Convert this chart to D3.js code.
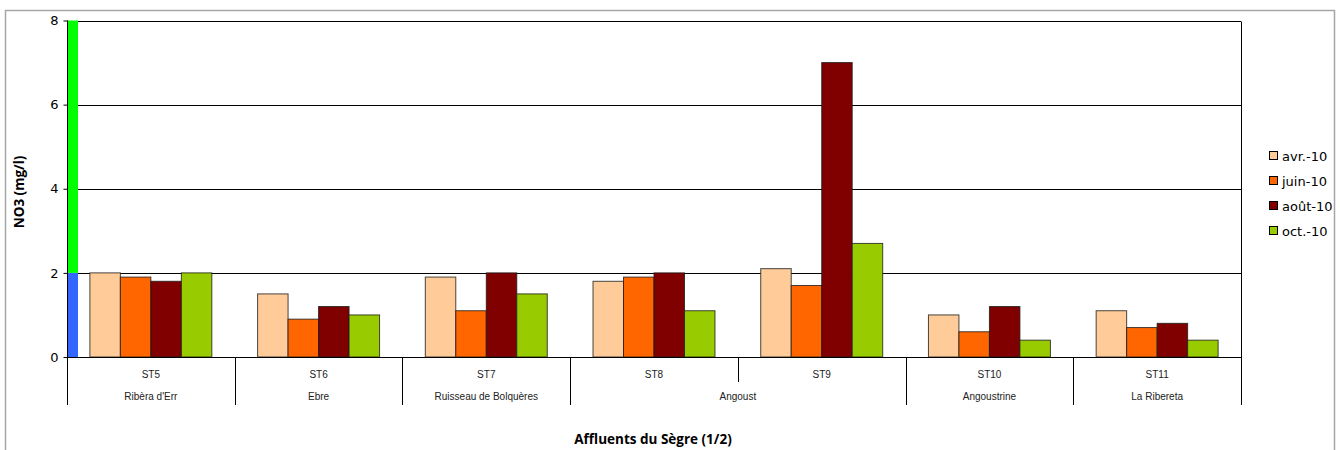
<!DOCTYPE html>
<html>
<head>
<meta charset="utf-8">
<script src="https://cdn.jsdelivr.net/npm/d3@7"></script>
<style>
  html, body { margin: 0; padding: 0; background: #fff; }
  svg { display: block; }
</style>
</head>
<body>
<svg id="chart" width="1340" height="450"></svg>
<script>
// Stations, their river, and NO3 readings per sampling campaign
const stations = ["ST5", "ST6", "ST7", "ST8", "ST9", "ST10", "ST11"];
const rivers = ["Ribèra d'Err", "Ebre", "Ruisseau de Bolquères", "Angoust", "Angoust", "Angoustrine", "La Ribereta"];
const campaigns = ["avr.-10", "juin-10", "août-10", "oct.-10"];
const avr10 = [2.0, 1.5, 1.9, 1.8, 2.1, 1.0, 1.1];
const juin10 = [1.9, 0.9, 1.1, 1.9, 1.7, 0.6, 0.7];
const aout10 = [1.8, 1.2, 2.0, 2.0, 7.0, 1.2, 0.8];
const oct10 = [2.0, 1.0, 1.5, 1.1, 2.7, 0.4, 0.4];
const yTicks = [0, 2, 4, 6, 8];
// Quality class band on the left edge: [from, to]
const classBands = [[0, 2], [2, 8]];

const seriesValues = [avr10, juin10, aout10, oct10];
const colors = ["#FFCC99", "#FF6600", "#800000", "#99CC00"];
const bandColors = ["#3366FF", "#00FF00"];

const svg = d3.select("#chart");
const m = { left: 67, right: 1241, top: 20.5, bottom: 357 };

// chart frame
svg.append("rect")
  .attr("x", 5.5).attr("y", 10.5)
  .attr("width", 1329).attr("height", 460)
  .attr("fill", "#fff").attr("stroke", "#a6a6a6").attr("stroke-width", 1.5);

const x = d3.scaleBand().domain(d3.range(stations.length)).range([m.left, m.right]).padding(0);
const xs = d3.scaleBand().domain(d3.range(campaigns.length)).range([0, x.bandwidth()])
  .paddingInner(0).paddingOuter(0.75);
const y = d3.scaleLinear().domain([0, 8]).range([m.bottom, m.top]);

// horizontal gridlines
svg.append("g").selectAll("line").data(yTicks.filter(d => d > 0)).join("line")
  .attr("x1", m.left).attr("x2", m.right)
  .attr("y1", d => Math.round(y(d)) + 0.5).attr("y2", d => Math.round(y(d)) + 0.5)
  .attr("stroke", "#000").attr("stroke-width", 1);

// right edge of plot
svg.append("line")
  .attr("x1", m.right + 0.5).attr("x2", m.right + 0.5)
  .attr("y1", Math.round(y(8)) + 0.5).attr("y2", m.bottom)
  .attr("stroke", "#000");

// class bands
svg.append("g").selectAll("rect").data(classBands).join("rect")
  .attr("x", m.left).attr("width", 11)
  .attr("y", d => y(d[1])).attr("height", d => y(d[0]) - y(d[1]))
  .attr("fill", (d, i) => bandColors[i]);

// bars
const groups = svg.append("g").selectAll("g").data(stations).join("g")
  .attr("transform", (d, i) => `translate(${x(i)},0)`);
groups.selectAll("rect")
  .data((d, i) => seriesValues.map((s, k) => ({ k, v: s[i] })))
  .join("rect")
  .attr("x", d => xs(d.k))
  .attr("width", xs.bandwidth())
  .attr("y", d => y(d.v))
  .attr("height", d => y(0) - y(d.v))
  .attr("fill", d => colors[d.k])
  .attr("stroke", "#1a1a1a").attr("stroke-opacity", 0.8).attr("stroke-width", 1);

// y axis
const yAxis = d3.axisLeft(y).tickValues(yTicks).tickSize(4).tickPadding(5).tickFormat(d3.format("d"));
const ya = svg.append("g").attr("transform", `translate(${m.left + 0.5},0)`).call(yAxis);
ya.select(".domain").remove();
ya.selectAll(".tick line").attr("stroke", "#000");
ya.selectAll("text").attr("font-family", "DejaVu Sans, Verdana, sans-serif")
  .attr("font-size", 13).attr("fill", "#000");
svg.append("line")
  .attr("x1", m.left + 0.5).attr("x2", m.left + 0.5)
  .attr("y1", m.top).attr("y2", 405)
  .attr("stroke", "#000");

// x axis baseline
svg.append("line")
  .attr("x1", m.left).attr("x2", m.right + 1)
  .attr("y1", m.bottom + 0.5).attr("y2", m.bottom + 0.5)
  .attr("stroke", "#000");

// category dividers: full height between rivers, short between stations of the same river
const dividers = d3.range(1, stations.length + 1).map(i => ({
  x: i === stations.length ? m.right : x(i),
  full: i === stations.length || rivers[i] !== rivers[i - 1]
}));
svg.append("g").selectAll("line").data(dividers).join("line")
  .attr("x1", d => Math.round(d.x) + 0.5).attr("x2", d => Math.round(d.x) + 0.5)
  .attr("y1", m.bottom).attr("y2", d => d.full ? 405 : 382)
  .attr("stroke", "#000");

// station labels
svg.append("g").selectAll("text").data(stations).join("text")
  .attr("x", (d, i) => x(i) + x.bandwidth() / 2)
  .attr("y", 378)
  .attr("text-anchor", "middle")
  .attr("font-family", "Liberation Sans, Arial, sans-serif")
  .attr("font-size", 10).attr("fill", "#222")
  .text(d => d);

// river labels, spanning consecutive stations on the same river
const riverSpans = [];
rivers.forEach((r, i) => {
  const last = riverSpans[riverSpans.length - 1];
  if (last && last.name === r) last.end = i; else riverSpans.push({ name: r, start: i, end: i });
});
svg.append("g").selectAll("text").data(riverSpans).join("text")
  .attr("x", d => (x(d.start) + x(d.end) + x.bandwidth()) / 2)
  .attr("y", 399.5)
  .attr("text-anchor", "middle")
  .attr("font-family", "Liberation Sans, Arial, sans-serif")
  .attr("font-size", 10).attr("fill", "#222")
  .text(d => d.name);

// axis titles
svg.append("text")
  .attr("x", 653).attr("y", 444)
  .attr("text-anchor", "middle")
  .attr("font-family", "Open Sans, Liberation Sans, sans-serif")
  .attr("font-weight", "bold").attr("font-size", 13.5).attr("fill", "#000")
  .text("Affluents du Sègre (1/2)");
svg.append("text")
  .attr("transform", "translate(24,192) rotate(-90)")
  .attr("text-anchor", "middle")
  .attr("font-family", "Open Sans, Liberation Sans, sans-serif")
  .attr("font-weight", "bold").attr("font-size", 13.5).attr("fill", "#000")
  .text("NO3 (mg/l)");

// legend
const legend = svg.append("g").attr("transform", "translate(1269,156)");
const li = legend.selectAll("g").data(campaigns).join("g")
  .attr("transform", (d, i) => `translate(0,${i * 25})`);
li.append("rect")
  .attr("x", 0.5).attr("y", -4.5).attr("width", 8).attr("height", 8)
  .attr("fill", (d, i) => colors[i]).attr("stroke", "#000").attr("stroke-width", 1);
li.append("text")
  .attr("x", 13).attr("y", 0).attr("dy", "0.35em")
  .attr("font-family", "DejaVu Sans, Verdana, sans-serif")
  .attr("font-size", 13).attr("fill", "#000")
  .text(d => d);
</script>
</body>
</html>
